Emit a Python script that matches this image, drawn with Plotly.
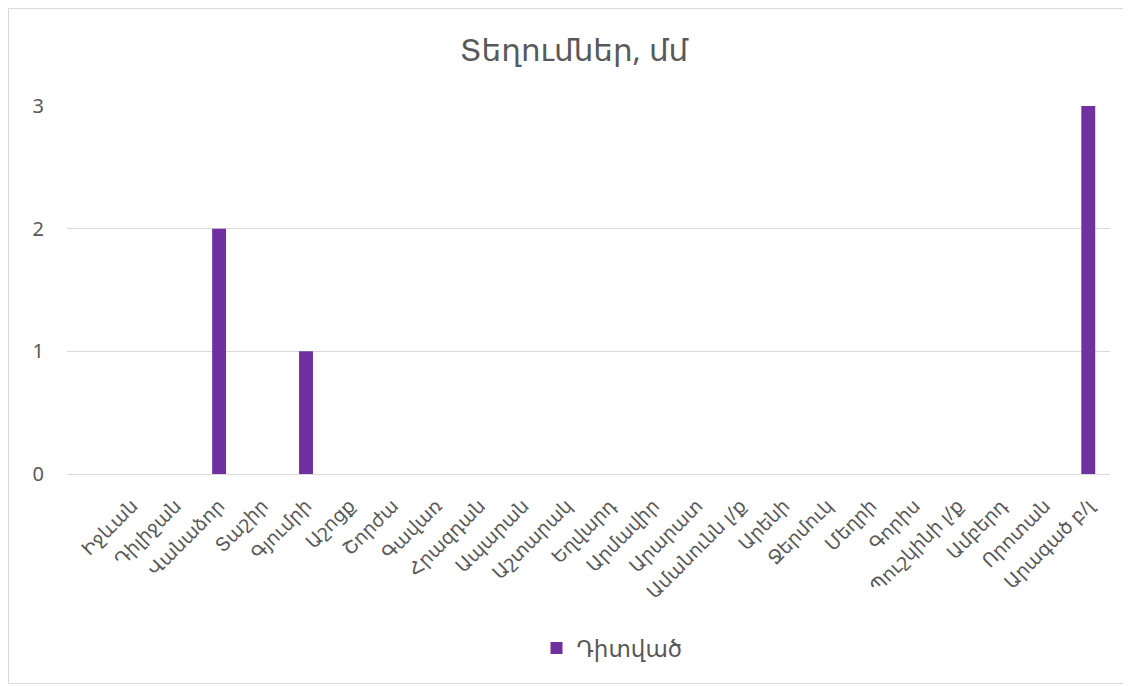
import plotly.graph_objects as go

categories = ["", "Իջևան", "Դիլիջան", "Վանաձոր", "Տաշիր", "Գյումրի", "Աշոցք", "Շորժա",
              "Գավառ", "Հրազդան", "Ապարան", "Աշտարակ", "Եղվարդ", "Արմավիր", "Արարատ",
              "Ամանունն լ/ք", "Արենի", "Ջերմուկ", "Մեղրի", "Գորիս", "Պուշկինի լ/ք",
              "Ամբերդ", "Որոտան", "Արագած բ/լ"]
observed = [None, 0, 0, 2, 0, 1, 0, 0, 0, 0, 0, 0, 0, 0, 0, 0, 0, 0, 0, 0, 0, 0, 0, 3]
series_name = "Դիտված"
title_text = "Տեղումներ, մմ"
y_ticks = [0, 1, 2, 3]

FONT = "Noto Sans, DejaVu Sans, sans-serif"
GREY = "#595959"

fig = go.Figure()
fig.add_trace(go.Bar(
    x=categories, y=observed, name=series_name,
    marker=dict(color="#7030A0", line=dict(width=0)),
    width=0.32, showlegend=True,
))

# page body has an 8px margin; target coordinates are shifted by OFF
OFF = 8
W, H = 1131 - OFF, 686 - OFF
L, R, T, B = 67 - OFF, 21, 106 - OFF, 212
pw, ph = W - L - R, H - T - B

def px(x):
    return (x - OFF - L) / pw

def py(y):
    return 1 - (y - OFF - T) / ph

fig.update_layout(
    width=W, height=H,
    margin=dict(l=L, r=R, t=T, b=B, autoexpand=False),
    paper_bgcolor="white", plot_bgcolor="white",
    font=dict(family=FONT, color=GREY),
    title=dict(text=title_text, x=px(574), xanchor="center", xref="paper",
               y=1 - (50 - OFF) / H, yanchor="middle", yref="container",
               font=dict(size=31, color=GREY, family=FONT)),
    xaxis=dict(type="category", tickangle=-45, tickfont=dict(size=19, color=GREY),
               showgrid=False, showline=False, zeroline=False, ticks="",
               ticklabelstandoff=16,
               range=[-0.5, len(categories) - 0.5]),
    yaxis=dict(range=[0, 3], tickvals=y_ticks, tickfont=dict(size=20, color=GREY),
               showgrid=True, gridcolor="#d9d9d9", gridwidth=1, zeroline=True,
               zerolinecolor="#d9d9d9", zerolinewidth=1, showline=False,
               ticklabelstandoff=22),
    legend=dict(orientation="h", x=px(612), xanchor="center", y=py(648), yanchor="middle",
                font=dict(size=23, color=GREY), itemwidth=30),
    shapes=[dict(type="rect", xref="paper", yref="paper",
                 x0=px(8.5), x1=px(1128.5), y0=py(683.5), y1=py(8.5),
                 line=dict(color="#d9d9d9", width=1), fillcolor="rgba(0,0,0,0)",
                 layer="below")],
)

fig.write_html("out.html")
